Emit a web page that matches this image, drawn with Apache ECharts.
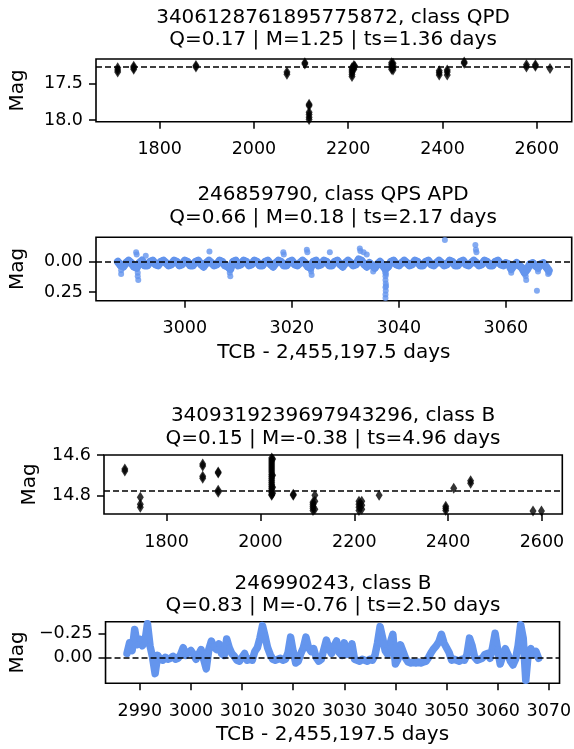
<!DOCTYPE html>
<html>
<head>
<meta charset="utf-8">
<script src="https://cdn.jsdelivr.net/npm/echarts@6/dist/echarts.min.js"></script>
<style>
  html, body { margin: 0; padding: 0; background: #fff; }
  #chart { width: 574px; height: 749px; }
</style>
</head>
<body>
<div id="chart"></div>
<script>
// ---- Source 1: 3406128761895775872 (sparse epochs, mag) ----
const srcA_time = [1711, 1711, 1711, 1745, 1745, 1745, 1877, 1877, 2070, 2070, 2108, 2108,
  2117, 2117, 2117, 2117, 2117, 2117, 2208, 2208, 2208, 2208, 2208, 2212, 2212, 2212, 2214,
  2292, 2292, 2292, 2292, 2295, 2295, 2295, 2295, 2393, 2393, 2393, 2410, 2410, 2410,
  2446, 2446, 2578, 2578, 2597, 2597, 2628];
const srcA_mag = [17.28, 17.31, 17.34, 17.26, 17.28, 17.30, 17.25, 17.27, 17.34, 17.37, 17.21, 17.23,
  17.78, 17.80, 17.89, 17.92, 17.96, 17.99, 17.28, 17.31, 17.34, 17.37, 17.40, 17.25, 17.27, 17.30, 17.26,
  17.21, 17.24, 17.27, 17.30, 17.22, 17.25, 17.28, 17.31, 17.32, 17.35, 17.38, 17.31, 17.34, 17.38,
  17.20, 17.22, 17.24, 17.27, 17.24, 17.26, 17.29];
const srcA_ref = 17.274;

// ---- Source 2: 246859790 (dense light curve, relative mag, 0.5 d samples) ----
const srcB_start = 2987.5;
const srcB_step = 0.5;
const srcB_mag = [
  0.00, 0.03, 0.04, 0.01, -0.01, 0.01, 0.04, 0.05, 0.01, -0.01,
  0.03, 0.03, 0.00, -0.01, 0.02, 0.03, 0.00, -0.01, 0.01, 0.03,
  0.02, -0.01, 0.00, 0.03, 0.02, -0.01, 0.00, 0.03, 0.03, 0.00,
  -0.01, 0.02, 0.04, 0.01, -0.01, 0.01, 0.03, 0.02, -0.01, 0.00,
  0.03, 0.04, 0.06, 0.00, -0.01, 0.03, 0.02, -0.01, 0.00, 0.03,
  0.02, -0.01, 0.00, 0.03, 0.03, 0.00, -0.01, 0.02, 0.04, 0.01,
  -0.01, 0.00, 0.03, 0.03, 0.00, -0.01, 0.02, 0.03, 0.01, -0.01,
  0.01, 0.04, 0.05, 0.00, -0.01, 0.03, 0.02, -0.01, 0.00, 0.03,
  0.03, 0.00, -0.01, 0.02, 0.04, 0.01, -0.01, 0.01, 0.03, 0.02,
  -0.02, -0.01, 0.02, 0.04, 0.01, 0.03, 0.05, 0.02, 0.00, 0.03,
  0.06, 0.04, 0.00, -0.01, 0.02, 0.03, 0.01, -0.01, 0.01, 0.03,
  0.02, -0.01, 0.00, 0.03, 0.03, 0.00, -0.01, 0.02, 0.03, 0.01,
  -0.01, 0.01, 0.03, 0.02, -0.01, 0.00, 0.03, 0.03, 0.00, -0.01,
  0.02, 0.03, 0.01, -0.01, 0.01, 0.03, 0.02, -0.01, 0.00, 0.03,
  0.03, 0.00, -0.01, 0.02, 0.03, 0.01, 0.02, 0.06, 0.03, 0.01,
  0.03, 0.05, 0.09, 0.06, 0.02, 0.01, 0.03, 0.05, 0.02, 0.01,
  0.04, 0.07
];
// isolated excursions of source 2 [time, mag]
const srcB_extra = [
  [2988.1, 0.07], [2988.1, 0.10], [2990.9, -0.08], [2991.0, -0.06], [2991.2, 0.09], [2991.2, 0.12],
  [2991.3, 0.15], [2992.7, -0.05], [3004.6, -0.085], [3008.4, 0.09], [3008.5, 0.12], [3018.4, -0.08],
  [3018.5, -0.06], [3022.8, -0.10], [3022.9, -0.08], [3023.6, 0.08], [3023.7, 0.11], [3027.1, -0.08],
  [3032.7, -0.11], [3032.8, -0.09], [3033.4, -0.08], [3034.0, -0.06], [3035.2, 0.08],
  [3037.4, 0.06], [3037.45, 0.09], [3037.5, 0.12], [3037.5, 0.15], [3037.55, 0.18], [3037.5, 0.21],
  [3037.55, 0.24], [3037.5, 0.27], [3037.5, 0.30], [3037.6, 0.10], [3037.6, 0.20],
  [3048.6, -0.18], [3054.3, -0.14], [3054.4, -0.10], [3054.5, -0.08], [3061.0, 0.09],
  [3063.7, 0.12], [3063.8, 0.15], [3065.8, 0.24], [3066.0, 0.08], [3067.9, 0.10], [3068.1, 0.09]
];
const srcB_ref = 0.0;

// ---- Source 3: 3409319239697943296 (sparse epochs, mag) ----
const srcC_time = [1711, 1711, 1744, 1744, 1744, 1877, 1877, 1877, 1877, 1910, 1910, 1910, 1910,
  2024, 2024, 2024, 2024, 2024, 2024, 2024, 2024, 2024, 2024, 2024, 2024, 2024, 2024, 2024, 2024,
  2024, 2024, 2024, 2024, 2026, 2026, 2026, 2026, 2070, 2070,
  2112, 2112, 2112, 2112, 2112, 2116, 2116, 2116, 2210, 2210, 2210, 2210, 2216, 2216, 2216,
  2253, 2395, 2395, 2395, 2412, 2448, 2448, 2581, 2599];
const srcC_mag = [14.67, 14.68, 14.81, 14.845, 14.86, 14.645, 14.655, 14.705, 14.715, 14.685, 14.69, 14.775, 14.785,
  14.615, 14.625, 14.635, 14.645, 14.655, 14.665, 14.675, 14.685, 14.695, 14.705, 14.715, 14.725, 14.735, 14.745,
  14.755, 14.765, 14.775, 14.785, 14.795, 14.80, 14.62, 14.70, 14.76, 14.79, 14.80, 14.795,
  14.835, 14.845, 14.855, 14.865, 14.875, 14.80, 14.83, 14.87, 14.83, 14.845, 14.86, 14.875, 14.83, 14.85, 14.87,
  14.80, 14.855, 14.865, 14.875, 14.765, 14.728, 14.74, 14.878, 14.878];
const srcC_ref = 14.783;

// ---- Source 4: 246990243 (dense light curve, relative mag, 0.5 d samples) ----
const srcD_start = 2987.5;
const srcD_step = 0.5;
const srcD_mag = [
  -0.04, -0.15, -0.07, -0.29, -0.13, -0.19, -0.12, -0.16, -0.35, -0.12,
  0.00, 0.17, -0.02, 0.02, 0.03, 0.00, 0.02, 0.01, -0.01, 0.02,
  0.01, -0.03, -0.10, -0.02, -0.05, -0.07, -0.03, 0.02, -0.03, -0.08,
  0.02, 0.12, -0.08, -0.17, -0.11, -0.08, -0.14, -0.04, -0.02, -0.19,
  -0.10, -0.04, -0.01, 0.03, 0.04, 0.00, -0.04, 0.03, 0.02, 0.03,
  -0.06, -0.10, -0.20, -0.33, -0.22, -0.10, -0.03, 0.02, 0.03, 0.02,
  0.01, 0.03, 0.02, -0.05, -0.21, -0.06, 0.06, 0.04, -0.04, -0.10,
  -0.21, -0.10, -0.06, -0.09, 0.00, 0.04, 0.02, -0.08, -0.18, -0.09,
  -0.04, -0.12, -0.17, -0.05, -0.02, -0.15, -0.03, -0.05, -0.14, 0.02,
  0.03, 0.04, 0.02, 0.03, 0.04, 0.02, 0.03, -0.02, -0.15, -0.32,
  -0.20, -0.07, -0.03, -0.15, -0.24, 0.07, 0.02, -0.13, -0.06, 0.01,
  0.05, 0.06, 0.05, 0.06, 0.05, 0.06, 0.05, 0.04, 0.00, -0.05,
  -0.09, -0.12, -0.16, -0.24, -0.15, -0.10, -0.05, 0.03, 0.02, 0.03,
  0.04, 0.02, 0.03, -0.03, -0.20, -0.12, 0.00, 0.03, 0.02, 0.01,
  -0.03, -0.04, 0.01, -0.10, -0.25, -0.08, 0.07, -0.02, -0.09, -0.03,
  0.04, 0.08, 0.02, -0.12, -0.34, -0.20, 0.24, -0.05, -0.09, -0.03,
  -0.06, 0.01
];
const srcD_ref = 0.0;

// ---- text and ticks ----
const panelTitles = [
  '3406128761895775872, class QPD\nQ=0.17 | M=1.25 | ts=1.36 days',
  '246859790, class QPS APD\nQ=0.66 | M=0.18 | ts=2.17 days',
  '3409319239697943296, class B\nQ=0.15 | M=-0.38 | ts=4.96 days',
  '246990243, class B\nQ=0.83 | M=-0.76 | ts=2.50 days'
];
const xLabelText = 'TCB - 2,455,197.5 days';
const yLabelText = 'Mag';
const xTicksA = [1800, 2000, 2200, 2400, 2600];
const xTicksB = [3000, 3020, 3040, 3060];
const xTicksC = [1800, 2000, 2200, 2400, 2600];
const xTicksD = [2990, 3000, 3010, 3020, 3030, 3040, 3050, 3060, 3070];
const yTicksA = [17.5, 18.0];
const yTicksB = [0, 0.25];
const yTicksC = [14.6, 14.8];
const yTicksD = [-0.25, 0];

// ---- build ----
const FONT = 'DejaVu Sans';
const BLUE = '#6495ED';

function pairs(times, mags) { return times.map((t, i) => [t, mags[i]]); }
function cadence(start, step, mags) { return mags.map((m, i) => [start + i * step, m]); }
function fmtMinus(s) { return s.replace('-', '\u2212'); }

const grids = [
  { left: 95, top: 59, width: 476.7, height: 62.7 },
  { left: 95, top: 237.3, width: 476.7, height: 63.4 },
  { left: 104, top: 455, width: 458.3, height: 59 },
  { left: 103.3, top: 621.7, width: 459, height: 61.6 }
].map(g => Object.assign(g, { show: true, borderColor: '#000', borderWidth: 1.6, backgroundColor: 'transparent' }));

function xAxisCfg(gi, min, max, ticks, name, gap) {
  return {
    type: 'value', gridIndex: gi, min: min, max: max,
    axisLine: { show: false, onZero: false },
    axisTick: { show: true, inside: false, length: 7, lineStyle: { color: '#000', width: 1.5 }, customValues: ticks },
    axisLabel: { show: true, color: '#000', fontFamily: FONT, fontSize: 17.5, margin: 19, customValues: ticks,
      formatter: v => String(Math.round(v)) },
    splitLine: { show: false },
    name: name || '', nameLocation: 'middle', nameGap: gap || 0,
    nameTextStyle: { color: '#000', fontFamily: FONT, fontSize: 20, verticalAlign: 'middle' }
  };
}
function yAxisCfg(gi, min, max, ticks, digits, gap) {
  return {
    type: 'value', gridIndex: gi, min: min, max: max, inverse: true,
    axisLine: { show: false, onZero: false },
    axisTick: { show: true, inside: false, length: 7, lineStyle: { color: '#000', width: 1.5 }, customValues: ticks },
    axisLabel: { show: true, color: '#000', fontFamily: FONT, fontSize: 17.5, margin: 13, customValues: ticks,
      formatter: v => fmtMinus((Math.abs(v) < 1e-9 ? 0 : v).toFixed(digits)) },
    splitLine: { show: false },
    name: yLabelText, nameLocation: 'middle', nameGap: gap, nameRotate: 90,
    nameTextStyle: { color: '#000', fontFamily: FONT, fontSize: 20, verticalAlign: 'middle' }
  };
}
function refLine(value) {
  return {
    silent: true, symbol: 'none', z: 10,
    label: { show: false },
    lineStyle: { type: [6, 3], color: '#000', width: 1.5 },
    data: [{ yAxis: value }]
  };
}

const titleTops = [6.5, 184, 405, 572.5];
const option = {
  animation: false,
  backgroundColor: '#fff',
  title: panelTitles.map((t, i) => ({
    text: t, left: 333, top: titleTops[i], textAlign: 'center', padding: 0,
    textStyle: { color: '#000', fontFamily: FONT, fontSize: 20, fontWeight: 'normal', lineHeight: 22.5 }
  })),
  grid: grids,
  xAxis: [
    xAxisCfg(0, 1665, 2674, xTicksA),
    xAxisCfg(1, 2983.4, 3072.3, xTicksB, xLabelText, 52),
    xAxisCfg(2, 1666.6, 2643.4, xTicksC),
    xAxisCfg(3, 2983.3, 3072.1, xTicksD, xLabelText, 51)
  ],
  yAxis: [
    yAxisCfg(0, 17.16, 18.02, yTicksA, 1, 78),
    yAxisCfg(1, -0.203, 0.322, yTicksB, 2, 78),
    yAxisCfg(2, 14.6, 14.893, yTicksC, 1, 74.5),
    yAxisCfg(3, -0.371, 0.271, yTicksD, 2, 86)
  ],
  series: [
    {
      type: 'scatter', xAxisIndex: 0, yAxisIndex: 0, silent: true,
      symbol: 'diamond', symbolSize: [7, 11], itemStyle: { color: '#000' },
      data: pairs(srcA_time, srcA_mag), markLine: refLine(srcA_ref)
    },
    {
      type: 'line', xAxisIndex: 1, yAxisIndex: 1, silent: true,
      showSymbol: true, showAllSymbol: true, symbol: 'circle', symbolSize: 7,
      itemStyle: { color: BLUE }, lineStyle: { color: BLUE, width: 8, cap: 'round', join: 'round' },
      data: cadence(srcB_start, srcB_step, srcB_mag)
    },
    {
      type: 'scatter', xAxisIndex: 1, yAxisIndex: 1, silent: true,
      symbol: 'circle', symbolSize: 6, itemStyle: { color: BLUE },
      data: srcB_extra, markLine: refLine(srcB_ref)
    },
    {
      type: 'scatter', xAxisIndex: 2, yAxisIndex: 2, silent: true,
      symbol: 'diamond', symbolSize: [7, 11], itemStyle: { color: '#000' },
      data: pairs(srcC_time, srcC_mag), markLine: refLine(srcC_ref)
    },
    {
      type: 'line', xAxisIndex: 3, yAxisIndex: 3, silent: true,
      showSymbol: true, showAllSymbol: true, symbol: 'circle', symbolSize: 6,
      itemStyle: { color: BLUE }, lineStyle: { color: BLUE, width: 7.5, cap: 'round', join: 'round' },
      data: cadence(srcD_start, srcD_step, srcD_mag), markLine: refLine(srcD_ref)
    }
  ]
};

const chart = echarts.init(document.getElementById('chart'), null, { renderer: 'canvas' });
chart.setOption(option);
</script>
</body>
</html>
